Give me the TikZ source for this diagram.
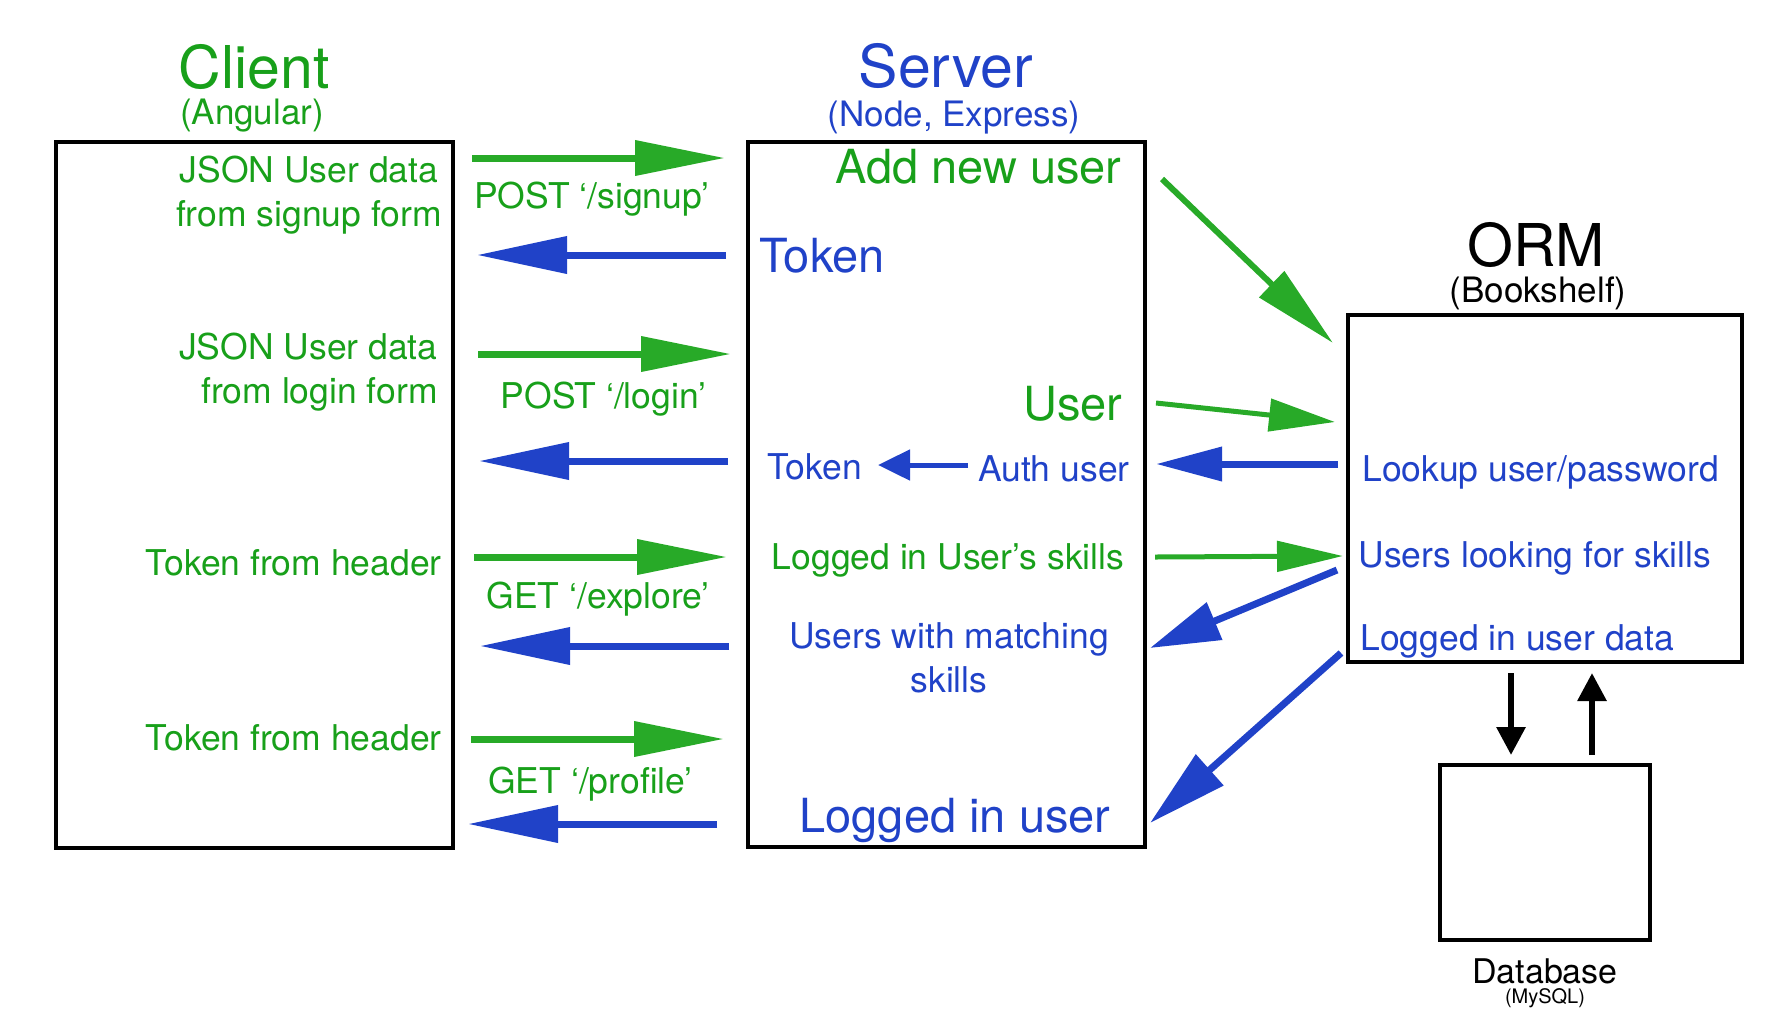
\documentclass[tikz,border=0pt]{standalone}
\usepackage{fontspec}
\setmainfont{TeX Gyre Heros}
\usetikzlibrary{arrows.meta}
\definecolor{txtgreen}{RGB}{24,160,26}
\definecolor{argreen}{RGB}{40,170,40}
\definecolor{nblue}{RGB}{32,66,200}
\tikzset{box/.style={draw, line width=2pt, inner sep=0}}
\tikzset{title/.style={inner sep=0, anchor=base, font=\fontsize{29.5}{35}\selectfont}}
\tikzset{sub/.style={inner sep=0, anchor=base, font=\fontsize{17.5}{21}\selectfont}}
\tikzset{big/.style={inner sep=0, font=\fontsize{23.5}{28}\selectfont}}
\tikzset{txt/.style={inner sep=0, font=\fontsize{17.75}{22}\selectfont}}
\tikzset{garrow/.style={argreen, line width=3.5pt, -{Triangle[length=45pt,width=17pt]}}}
\tikzset{barrow/.style={nblue, line width=3.5pt, -{Triangle[length=45pt,width=18pt]}}}
\tikzset{karrow/.style={black, line width=3pt, -{Triangle[length=14pt,width=14pt]}}}

\begin{document}
\begin{tikzpicture}[x=0.5pt,y=-0.5pt]
\useasboundingbox (0,0) rectangle (1766,1024);

\node[box, minimum width=198.5pt, minimum height=353pt] (client) at (254.5,495) {};
\node[box, minimum width=198.5pt, minimum height=352.5pt] (server) at (946.5,494.5) {};
\node[box, minimum width=197pt, minimum height=173.5pt] (orm) at (1545,488.5) {};
\node[box, minimum width=105pt, minimum height=87.5pt] (db) at (1545,852.5) {};

\node[title, txtgreen] (clientT) at (254,88) {Client};
\node[sub, txtgreen] (clientS) at (252,124) {(Angular)};
\node[title, nblue] (serverT) at (946,87) {Server};
\node[sub, nblue] (serverS) at (954,126) {(Node, Express)};
\node[title] (ormT) at (1536,266) {ORM};
\node[sub] (ormS) at (1538,302) {(Bookshelf)};
\node[sub, font=\fontsize{17}{20}\selectfont] (dbT) at (1545,983) {Database};
\node[sub, font=\fontsize{10}{12}\selectfont] (dbS) at (1545,1003) {(MySQL)};

% client side
\node[txt, txtgreen, align=center, anchor=base] (signup) at (309,226) {JSON User data\\from signup form};
\node[txt, txtgreen, align=right, anchor=base east] (login) at (438,403) {JSON User data\\from login form};
\node[txt, txtgreen, anchor=base east] (hdr1) at (442,575) {Token from header};
\node[txt, txtgreen, anchor=base east] (hdr2) at (442,750) {Token from header};

\node[txt, txtgreen, anchor=base] (post1) at (592,208) {POST `/signup'};
\node[txt, txtgreen, anchor=base] (post2) at (603.5,408) {POST `/login'};
\node[txt, txtgreen, anchor=base] (get1) at (598,608) {GET `/explore'};
\node[txt, txtgreen, anchor=base] (get2) at (590.5,793) {GET `/profile'};

% server side
\node[big, txtgreen, anchor=base east] (add) at (1122,183) {Add new user};
\node[big, nblue, anchor=base west] (tok1) at (759,272) {Token};
\node[big, txtgreen, anchor=base east] (user) at (1123,420) {User};
\node[txt, nblue, anchor=base west] (tok2) at (767,479) {Token};
\node[txt, nblue, anchor=base east] (auth) at (1130,481) {Auth user};
\node[txt, txtgreen, anchor=base] (skills) at (948,569) {Logged in User's skills};
\node[txt, nblue, align=center, anchor=base] (match) at (949,692) {Users with matching\\skills};
\node[big, nblue, anchor=base] (logged) at (955,832) {Logged in user};

\node[txt, nblue, anchor=base west] (lookup) at (1362,481) {Lookup user/password};
\node[txt, nblue, anchor=base west] (looking) at (1358,567) {Users looking for skills};
\node[txt, nblue, anchor=base west] (udata) at (1360,650) {Logged in user data};

% request / response ends
\coordinate (c1) at (472,158); \coordinate (s1) at (725,158);
\coordinate (c2) at (477,255); \coordinate (s2) at (726,255);
\coordinate (c3) at (478,354); \coordinate (s3) at (731,354);
\coordinate (c4) at (479,461); \coordinate (s4) at (728,461);
\coordinate (c5) at (474,557); \coordinate (s5) at (727,557);
\coordinate (c6) at (480,646); \coordinate (s6) at (729,646);
\coordinate (c7) at (471,739); \coordinate (s7) at (724,739);
\coordinate (c8) at (468,824); \coordinate (s8) at (717,824);

\draw[garrow] (c1) -- (s1);
\draw[barrow] (s2) -- (c2);
\draw[garrow] (c3) -- (s3);
\draw[barrow] (s4) -- (c4);
\draw[garrow] (c5) -- (s5);
\draw[barrow] (s6) -- (c6);
\draw[garrow] (c7) -- (s7);
\draw[barrow] (s8) -- (c8);

\coordinate (au) at (968,465); \coordinate (tk) at (878,465);
\draw[barrow, line width=2.5pt, -{Triangle[length=16pt,width=15pt]}] (au) -- (tk);

% server <-> orm
\coordinate (r1s) at (1162,179); \coordinate (r1e) at (1333,343);
\coordinate (r2s) at (1156,403); \coordinate (r2e) at (1335,422);
\coordinate (r3s) at (1338,464); \coordinate (r3e) at (1156,464);
\coordinate (r4s) at (1155,557); \coordinate (r4e) at (1343,556);
\coordinate (r5s) at (1337,570); \coordinate (r5e) at (1150,648);
\coordinate (r6s) at (1341,653); \coordinate (r6e) at (1150,823);

\draw[garrow, line width=3pt, -{Triangle[length=42.5pt,width=17.5pt]}] (r1s) -- (r1e);
\draw[garrow, line width=2.5pt, -{Triangle[length=33pt,width=16pt]}] (r2s) -- (r2e);
\draw[barrow, -{Triangle[length=33pt,width=16.5pt]}] (r3s) -- (r3e);
\draw[garrow, line width=2.5pt, -{Triangle[length=33pt,width=15pt]}] (r4s) -- (r4e);
\draw[barrow, -{Triangle[length=35pt,width=19.5pt]}] (r5s) -- (r5e);
\draw[barrow, -{Triangle[length=40pt,width=20pt]}] (r6s) -- (r6e);

% orm <-> db
\coordinate (d1) at (1511,673); \coordinate (d2) at (1511,755);
\coordinate (u1) at (1592,755); \coordinate (u2) at (1592,673);
\draw[karrow] (d1) -- (d2);
\draw[karrow] (u1) -- (u2);

\end{tikzpicture}
\end{document}
